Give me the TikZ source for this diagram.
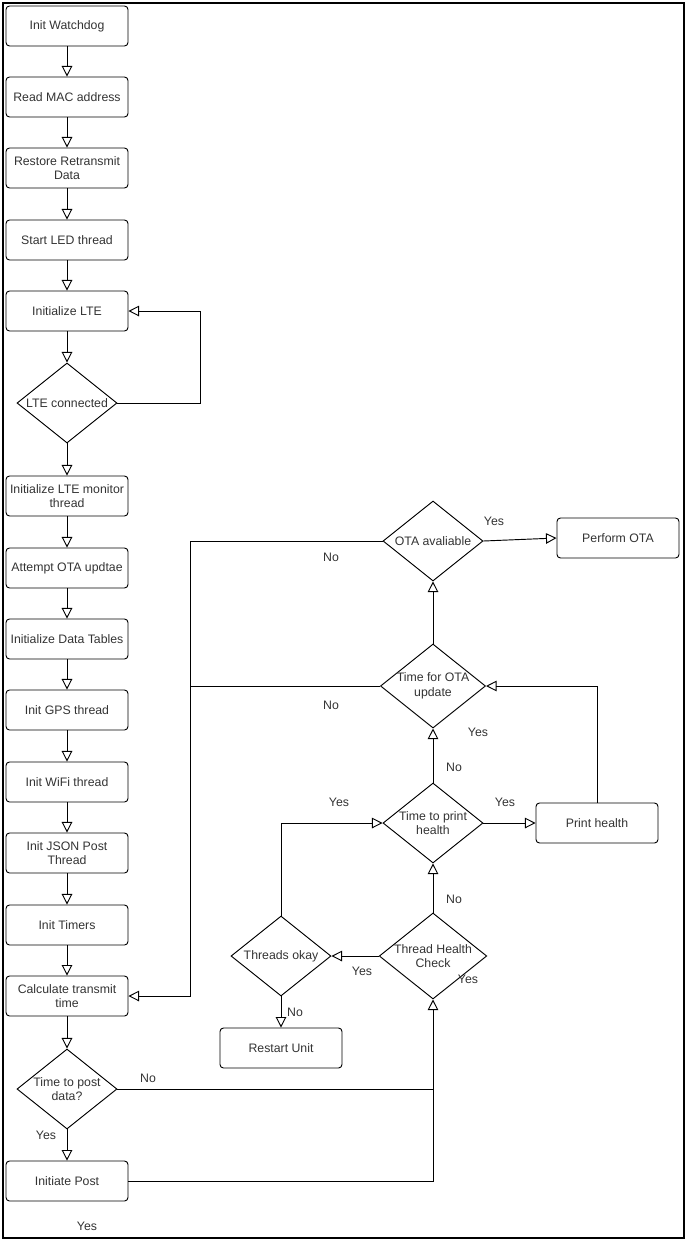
\documentclass[tikz,border=0pt]{standalone}
\usepackage{fontspec}
\setmainfont{Liberation Sans}
\usetikzlibrary{arrows.meta,calc,positioning,shapes}

\begin{document}
\begin{tikzpicture}[x=0.03cm,y=-0.03cm,every node/.style={font=\fontsize{10.5}{12.5}\selectfont,text=black!80},
    proc/.style={rectangle,rounded corners=3pt,minimum width=3.66cm,minimum height=1.2cm,align=center,draw,thick},
    test/.style={diamond,aspect=1.25,minimum width=3cm,minimum height=2.4cm,inner sep=0pt,align=center,draw,thick},
    flow/.style={-{Triangle[open,length=9pt,width=9pt]},thick}]

    \useasboundingbox (0,0) rectangle (688,1246);
    \draw[line width=2pt] (3,3) rectangle (684,1238);

    % left column
    \foreach \y/\n/\t in {26/WDOG/Init Watchdog,97/MAC/Read MAC address,168/RESTORE/Restore Retransmit\\Data,
        240/LED/Start LED thread,311/LTE/Initialize LTE,496/MON/Initialize LTE monitor\\thread,
        568/OTA/Attempt OTA updtae,639/TABLES/Initialize Data Tables,710/GPS/Init GPS thread,
        782/WIFI/Init WiFi thread,853/JSON/Init JSON Post\\Thread,925/TIMERS/Init Timers,
        996/CALC/Calculate transmit\\time,1181/POST/Initiate Post} {
      \node[proc] (\n) at (67,\y) {\t};
    }
    \node[test] (CONN) at (67,403) {LTE connected};
    \node[test] (TPOST) at (67,1089) {Time to post\\data?};

    % right side
    \node[test] (AVAIL) at (433,541) {OTA avaliable};
    \node[proc] (PERFORM) at (618,538) {Perform OTA};
    \node[test] (TOTA) at (433,686) {Time for OTA\\update};
    \node[test] (TPRINT) at (433,823) {Time to print\\health};
    \node[proc] (PRINT) at (597,823) {Print health};
    \node[test] (CHECK) at (433,956) {Thread Health\\Check};
    \node[test] (OKAY) at (281,956) {Threads okay};
    \node[proc] (RESTART) at (281,1048) {Restart Unit};

    \foreach \a/\b in {WDOG/MAC,MAC/RESTORE,RESTORE/LED,LED/LTE,LTE/CONN,CONN/MON,MON/OTA,OTA/TABLES,
        TABLES/GPS,GPS/WIFI,WIFI/JSON,JSON/TIMERS,TIMERS/CALC,CALC/TPOST,TPOST/POST} {
      \draw[flow] (\a) -- (\b);
    }
    \draw[flow] (CONN.east) -| (200,311) -- (LTE.east);

    \draw[thick] (TPOST.east) -- (433,1089);
    \draw[flow] (POST.east) -| (CHECK.south);
    \draw[flow] (CHECK.west) -- (OKAY.east);
    \draw[flow] (OKAY.south) -- (RESTART.north);
    \draw[flow] (OKAY.north) |- (TPRINT.west);
    \draw[flow] (CHECK.north) -- (TPRINT.south);
    \draw[flow] (TPRINT.east) -- (PRINT.west);
    \draw[flow] (PRINT.north) |- (TOTA.east);
    \draw[flow] (TPRINT.north) -- (TOTA.south);
    \draw[flow] (TOTA.north) -- (AVAIL.south);
    \draw[flow] (AVAIL.east) -- (PERFORM.west);
    \draw[flow] (AVAIL.west) -| (190,996) -- (CALC.east);
    \draw[thick] (TOTA.west) -- (190,686);

    % labels
    \foreach \x/\y/\t in {331/557/No,494/521/Yes,331/705/No,478/732/Yes,454/767/No,339/802/Yes,
        505/802/Yes,454/899/No,362/971/Yes,468/979/Yes,295/1012/No,148/1078/No,46/1135/Yes,87/1226/Yes} {
      \node at (\x,\y) {\t};
    }
\end{tikzpicture}
\end{document}
